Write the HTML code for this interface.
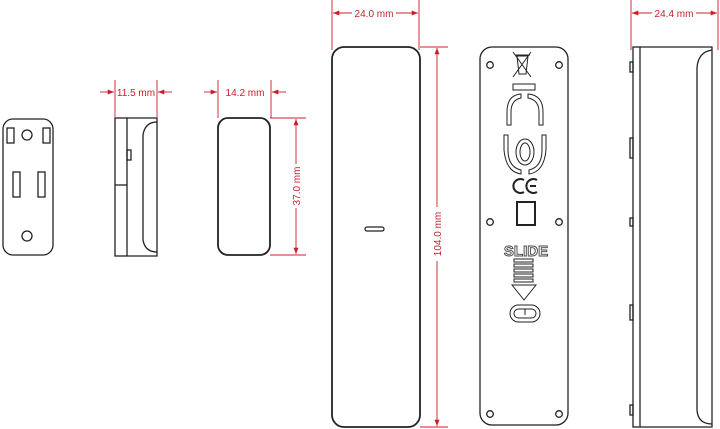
<!DOCTYPE html>
<html><head><meta charset="utf-8"><style>
html,body{margin:0;padding:0;background:#fff;width:720px;height:429px;overflow:hidden}
svg{display:block}
text{font-family:"Liberation Sans",Arial,sans-serif}
</style></head><body>
<svg width="720" height="429" viewBox="0 0 720 429" xmlns="http://www.w3.org/2000/svg">
<defs>
<marker id="a" viewBox="0 0 10 10" refX="10" refY="5" markerWidth="7" markerHeight="7" orient="auto-start-reverse"><path d="M0,1 L10,5 L0,9 z" fill="#c8202a"/></marker>
</defs>
<g fill="none" stroke="#222" stroke-width="1.3">
<!-- small back piece -->
<rect x="3" y="119" width="50" height="136" rx="10"/>
<rect x="7" y="128" width="7" height="15"/><rect x="43" y="128" width="7" height="15"/>
<circle cx="27" cy="135" r="5"/>
<rect x="13" y="172" width="7" height="25"/><rect x="38" y="172" width="7" height="25"/>
<circle cx="27" cy="236" r="5"/>
<!-- small side -->
<rect x="115" y="118" width="12" height="138"/>
<path d="M127,118 H157 V256 H127"/>
<path d="M157,122 Q145,122 143,135 V240 Q145,252 157,252"/>
<rect x="127" y="150" width="4" height="10"/>
<line x1="115" y1="185" x2="127" y2="185"/>
<!-- small front -->
<rect x="218" y="118" width="52" height="137" rx="10" stroke-width="1.8"/>
<!-- main front -->
<rect x="332" y="47" width="88" height="380" rx="12" stroke-width="1.8"/>
<rect x="365" y="227" width="19" height="4" rx="2"/>
<!-- back plate -->
<rect x="480" y="47" width="88" height="378" rx="12"/>
<circle cx="490" cy="65" r="3.3"/><circle cx="559" cy="65" r="3.3"/>
<circle cx="490" cy="222" r="3.3"/><circle cx="559" cy="222" r="3.3"/>
<circle cx="490" cy="414" r="3.3"/><circle cx="559" cy="414" r="3.3"/>
<g stroke-width="1">
<path d="M517,56 H528 L526,74 H519 Z M515,55 H530"/>
<path d="M513,52 L531,77 M531,52 L513,77"/>
<rect x="513" y="84" width="22" height="6"/>
<path d="M507,125 V112 Q507,95 521,94 V98 Q511,100 511,112 V125 Z"/>
<path d="M543,125 V112 Q543,95 528,94 V98 Q539,100 539,112 V125 Z"/>
<path d="M504,135 V150 Q506,172 521,174 V170 Q508,167 508,150 V135 Z"/>
<path d="M546,135 V150 Q544,172 529,174 V170 Q542,167 542,150 V135 Z"/>
<ellipse cx="525" cy="152" rx="9" ry="13"/><ellipse cx="525" cy="152" rx="5" ry="9"/>
<path d="M524,180 A7,7 0 1 0 524,192" stroke-width="2"/>
<path d="M537,180 A7,7 0 1 0 537,192 M530,186 H536" stroke-width="2"/>
<rect x="517" y="202" width="18" height="23" stroke-width="2"/>
<rect x="514" y="259" width="19" height="3"/><rect x="514" y="264" width="19" height="3"/><rect x="514" y="269" width="19" height="3"/><rect x="514" y="274" width="19" height="3"/><rect x="514" y="279" width="19" height="3"/>
<path d="M512,285 H536 L524,300 Z"/>
<rect x="510" y="305" width="30" height="17" rx="8.5"/><rect x="514" y="309" width="22" height="9" rx="4.5"/>
<line x1="525" y1="309" x2="525" y2="315"/>
</g>
<!-- right side -->
<rect x="633" y="47" width="7" height="380"/>
<path d="M640,47 H712 V427 H640"/>
<path d="M712,50 Q698,52 697,68 V410 Q698,424 712,424"/>
<rect x="630" y="62" width="3" height="10"/><rect x="630" y="138" width="3" height="20"/>
<rect x="630" y="218" width="3" height="8"/><rect x="630" y="305" width="3" height="15"/><rect x="630" y="405" width="3" height="10"/>
</g>
<text x="526" y="256" font-size="15" font-weight="bold" fill="#fff" stroke="#444" stroke-width="0.9" text-anchor="middle">SLIDE</text>
<!-- dims -->
<g stroke="#c8202a" stroke-width="0.9" fill="none">
<line x1="115" y1="80" x2="115" y2="118"/><line x1="157" y1="80" x2="157" y2="118"/>
<line x1="100" y1="92" x2="114" y2="92" marker-end="url(#a)"/><line x1="172" y1="92" x2="158" y2="92" marker-end="url(#a)"/>
<line x1="218" y1="80" x2="218" y2="118"/><line x1="271" y1="80" x2="271" y2="118"/>
<line x1="204" y1="92" x2="217" y2="92" marker-end="url(#a)"/><line x1="286" y1="92" x2="272" y2="92" marker-end="url(#a)"/>
<line x1="270" y1="118" x2="306" y2="118"/><line x1="270" y1="255" x2="306" y2="255"/>
<line x1="296" y1="119" x2="296" y2="254" marker-start="url(#a)" marker-end="url(#a)"/>
<line x1="332" y1="0" x2="332" y2="50"/><line x1="419" y1="0" x2="419" y2="50"/>
<line x1="333" y1="13" x2="418" y2="13" marker-start="url(#a)" marker-end="url(#a)"/>
<line x1="420" y1="47" x2="448" y2="47"/><line x1="420" y1="427" x2="448" y2="427"/>
<line x1="437" y1="48" x2="437" y2="426" marker-start="url(#a)" marker-end="url(#a)"/>
<line x1="631" y1="0" x2="631" y2="50"/><line x1="718" y1="0" x2="718" y2="50"/>
<line x1="632" y1="13" x2="717" y2="13" marker-start="url(#a)" marker-end="url(#a)"/>
</g>
<g fill="#c8202a" font-size="10">
<rect x="120" y="86" width="35" height="12" fill="#fff"/><text x="136" y="96" text-anchor="middle">11.5 mm</text>
<rect x="224" y="86" width="44" height="12" fill="#fff"/><text x="245" y="96" text-anchor="middle">14.2 mm</text>
<rect x="290" y="164" width="12" height="44" fill="#fff"/><text transform="translate(300,186) rotate(-90)" text-anchor="middle">37.0 mm</text>
<rect x="352" y="7" width="44" height="12" fill="#fff"/><text x="374" y="17" text-anchor="middle">24.0 mm</text>
<rect x="431" y="207" width="12" height="54" fill="#fff"/><text transform="translate(441,234) rotate(-90)" text-anchor="middle">104.0 mm</text>
<rect x="652" y="7" width="44" height="12" fill="#fff"/><text x="674" y="17" text-anchor="middle">24.4 mm</text>
</g>
</svg>
</body></html>
